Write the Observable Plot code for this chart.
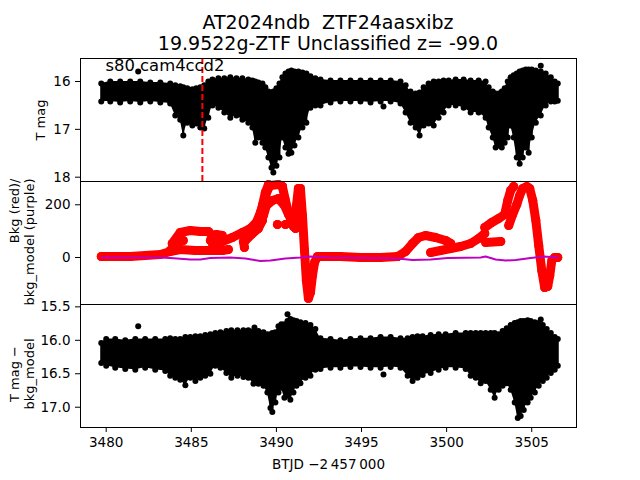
<!DOCTYPE html>
<html><head><meta charset="utf-8">
<script src="https://cdn.jsdelivr.net/npm/d3@7"></script>
<script src="https://cdn.jsdelivr.net/npm/@observablehq/plot@0.6"></script>
<style>
body{margin:0;background:#fff;font-family:"DejaVu Sans",sans-serif;}
#wrap{position:relative;width:640px;height:480px;overflow:hidden;background:#fff}
#wrap svg{position:absolute;left:0}
</style></head><body><div id="wrap"></div>
<script>
// ---------- data ----------
const titleLine1 = "AT2024ndb  ZTF24aasxibz";
const titleLine2 = "19.9522g-ZTF Unclassified z= -99.0";
const cameraLabel = "s80 cam4ccd2";
const xLabel = "BTJD \u22122\u2009457\u2009000";
const xTicks = [3480, 3485, 3490, 3495, 3500, 3505];
const p1Ticks = [16, 17, 18];
const p2Ticks = [0, 200];
const p3Ticks = [15.5, 16.0, 16.5, 17.0];
const markerTime = [3485.65];

// Panel 1: T mag envelope of point centres (bright edge / faint edge)
const p1T = [3479.71,3480.24,3480.82,3481.41,3482.00,3482.59,3483.18,3483.76,3484.06,3484.35,
3484.53,3484.76,3485.06,3485.29,3485.53,3485.76,3486.00,3486.24,3486.59,3486.94,
3487.29,3487.65,3488.00,3488.35,3488.59,3488.76,3488.94,3489.18,3489.35,3489.53,
3489.71,3489.82,3490.00,3490.18,3490.35,3490.53,3490.71,3490.88,3491.06,3491.29,
3491.53,3491.76,3492.00,3492.29,3492.59,3493.18,3493.76,3494.35,3494.94,3495.53,
3496.12,3496.71,3497.29,3497.59,3497.88,3498.18,3498.41,3498.65,3498.94,3499.24,
3499.53,3499.82,3500.12,3500.53,3501.00,3501.41,3501.88,3502.29,3502.47,3502.71,
3502.88,3503.06,3503.24,3503.41,3503.59,3503.76,3503.94,3504.12,3504.29,3504.47,
3504.65,3504.82,3505.00,3505.24,3505.53,3505.82,3506.12,3506.35,3506.53];
const p1Top = [16.04,16.00,16.00,16.00,16.00,16.02,16.02,16.04,16.08,16.10,
16.12,16.14,16.16,16.14,16.12,16.08,16.00,15.96,15.93,15.93,
15.91,15.93,15.93,15.96,15.98,16.00,16.02,16.04,16.12,16.21,
16.25,16.21,16.14,16.04,15.91,15.83,15.79,15.77,15.79,15.79,
15.81,15.83,15.89,15.93,15.96,15.98,15.98,15.98,15.98,15.98,
15.98,15.98,16.00,16.08,16.21,16.25,16.23,16.12,16.04,16.00,
16.00,15.98,15.98,15.96,15.96,15.98,15.98,16.00,16.12,16.21,
16.25,16.25,16.21,16.14,16.00,15.91,15.87,15.83,15.79,15.77,
15.75,15.75,15.75,15.77,15.79,15.83,15.91,16.00,16.04];
const p1Bot = [16.42,16.42,16.44,16.42,16.44,16.42,16.44,16.46,16.71,16.80,
17.13,16.86,16.92,16.88,16.96,16.98,16.76,16.50,16.55,16.65,
16.76,16.71,16.80,16.86,16.96,17.28,17.17,17.28,17.38,17.59,
17.80,17.90,17.76,17.59,17.17,17.38,17.51,17.49,17.34,17.17,
16.96,16.86,16.55,16.50,16.50,16.44,16.42,16.42,16.42,16.44,
16.42,16.42,16.46,16.65,16.86,16.96,17.13,16.92,16.88,16.92,
16.76,16.65,16.50,16.50,16.55,16.65,16.65,16.76,16.96,17.17,
17.38,17.34,17.38,17.28,17.17,16.92,17.17,17.59,17.72,17.59,
17.38,17.49,17.17,16.86,16.71,16.50,16.42,16.42,16.40];
const out1T = [3481.88, 3505.53, 3496.29];
const out1M = [15.79, 15.67, 16.52];

// Panel 2: background (red) as time-ordered strands, model (purple)
const bkgSeg = ["a","a","a","a","a","a","a","a","a",
"b","b","b","b","b","b",
"b2","b2","b2",
"b3","b3","b3",
"c","c","c","c","c","c","c","c","c","c","c","c",
"c2","c2","c2","c2",
"c3","c3",
"c4","c4","c4","c4","c4","c4",
"c5","c5","c5","c5",
"d","d","d","d","d",
"e1","e2",
"f","f","f","f","f","f","f","f","f","f","f","f","f","f","f","f","f",
"g","g","g","g","g","g","g","g",
"h","h","h","h","h","h","h",
"i","i",
"j","j","j","j","j","j","j",
"k","k","k","k","k","k","k","k","k","k","k","k","k","k","k","k","k"];
const bkgT = [3479.71,3481.41,3483.18,3483.76,3484.35,3485.24,3486.12,3486.82,3487.18,
3483.88,3484.35,3484.94,3485.53,3486.00,3486.29,
3483.76,3484.18,3484.53,
3486.12,3486.47,3486.82,
3486.24,3486.82,3487.41,3488.00,3488.47,3488.82,3489.06,3489.29,3489.47,3489.65,3490.12,3490.35,
3488.94,3489.18,3489.35,3489.53,
3488.06,3488.12,
3489.24,3489.41,3489.76,3490.12,3490.47,3490.71,
3488.18,3488.59,3488.94,3489.18,
3490.35,3490.53,3490.71,3490.88,3491.00,
3490.06,3490.53,
3491.12,3491.18,3491.29,3491.41,3491.53,3491.65,3491.76,3491.88,3492.00,3492.12,3492.24,3492.41,3492.88,3493.76,3494.94,3496.12,3497.12,
3497.12,3497.59,3498.00,3498.35,3498.76,3499.35,3499.94,3500.24,
3499.06,3499.65,3500.24,3500.82,3501.41,3501.88,3502.24,
3502.29,3503.18,
3502.24,3502.65,3503.06,3503.41,3503.59,3503.76,3503.94,
3503.65,3503.88,3504.12,3504.29,3504.47,3504.71,3504.88,3505.06,3505.24,3505.41,3505.59,3505.76,3505.94,3506.06,3506.18,3506.35,3506.53];
const bkgV = [3.8,3.8,11.4,22.8,30.4,26.6,26.6,26.6,30.4,
53.1,94.9,102.5,98.7,98.7,79.7,
26.6,56.9,64.5,
64.5,87.3,83.5,
53.1,60.7,75.9,94.9,110.1,132.8,170.8,216.3,254.3,273.2,277,269.4,
121.4,197.3,246.7,277,
60.7,38,
159.4,197.3,216.3,223.9,197.3,163.2,
64.5,91.1,110.1,140.4,
269.4,216.3,170.8,132.8,117.6,
125.2,125.2,
110.1,197.3,261.9,261.9,159.4,26.6,-87.3,-155.6,-132.8,-68.3,-19,3.8,3.8,3.8,0,0,3.8,
3.8,22.8,53.1,75.9,83.5,75.9,64.5,53.1,
19,26.6,34.2,41.7,53.1,72.1,91.1,
56.9,60.7,
113.9,132.8,148,163.2,216.3,254.3,269.4,
121.4,163.2,201.1,235.3,261.9,269.4,261.9,216.3,140.4,45.5,-49.3,-113.9,-110,-68.3,-11.4,0,0];
const modelT = [3479.71,3483.18,3483.76,3484.94,3485.53,3486.12,3487.29,3488.18,3489.06,3489.65,3490.53,3491.41,3492.00,3493.18,3497.12,3498.00,3499.06,3500.06,3502.00,3502.29,3502.88,3503.47,3504.06,3504.94,3505.71,3506.53];
const modelV = [0,0,-1.9,-7.6,-7.6,-1.9,0,-3.8,-13.3,-11.4,-3.8,0,3.8,0,-3.8,-9.5,-7.6,-1.9,0,3.8,-7.6,-11.4,-9.5,-1.9,3.8,0];

// Panel 3: T mag - bkg_model envelope of point centres
const p3T = [3479.71,3480.00,3480.53,3481.12,3481.71,3482.29,3482.88,3483.47,3483.76,3484.06,
3484.35,3484.65,3484.94,3485.24,3485.53,3485.82,3486.12,3486.41,3486.71,3487.06,
3487.35,3487.71,3488.06,3488.35,3488.65,3488.94,3489.24,3489.47,3489.65,3489.76,
3489.94,3490.12,3490.29,3490.47,3490.65,3490.82,3491.00,3491.18,3491.41,3491.71,
3492.00,3492.29,3492.59,3493.18,3493.76,3494.35,3494.94,3495.53,3496.12,3496.71,
3497.29,3497.71,3498.00,3498.29,3498.59,3499.06,3499.53,3499.94,3500.53,3501.12,
3501.41,3501.71,3502.00,3502.29,3502.59,3502.82,3503.06,3503.29,3503.53,3503.76,
3504.00,3504.18,3504.35,3504.53,3504.76,3504.94,3505.18,3505.41,3505.65,3505.88,
3506.12,3506.35,3506.53];
const p3Top = [16.04,15.98,15.98,16.00,15.98,15.98,15.98,15.98,15.97,15.98,
15.98,15.95,15.95,15.94,15.94,15.92,15.91,15.89,15.88,15.86,
15.85,15.85,15.85,15.85,15.86,15.86,15.88,15.91,15.91,15.89,
15.88,15.79,15.76,15.76,15.71,15.68,15.70,15.71,15.73,15.74,
15.77,15.83,15.97,15.98,16.00,15.98,15.97,15.97,15.95,15.95,
15.97,15.97,15.95,15.94,15.94,15.92,15.91,15.91,15.89,15.89,
15.89,15.89,15.89,15.89,15.89,15.89,15.91,15.86,15.82,15.77,
15.74,15.73,15.71,15.71,15.70,15.71,15.73,15.74,15.77,15.83,
15.89,15.95,15.98];
const p3Bot = [16.34,16.38,16.41,16.43,16.44,16.41,16.44,16.46,16.53,16.56,
16.59,16.67,16.56,16.61,16.56,16.53,16.50,16.38,16.41,16.49,
16.56,16.53,16.55,16.56,16.65,16.65,16.68,16.78,17.01,17.07,
16.93,16.78,16.71,16.86,16.83,16.89,16.78,16.68,16.64,16.56,
16.53,16.44,16.43,16.41,16.41,16.40,16.40,16.41,16.41,16.40,
16.41,16.53,16.61,16.56,16.52,16.49,16.44,16.41,16.41,16.43,
16.53,16.56,16.64,16.61,16.74,16.86,16.74,16.68,16.64,16.74,
16.93,17.16,17.13,17.04,16.93,16.86,16.78,16.68,16.61,16.56,
16.49,16.44,16.38];
const out3T = [3481.88, 3490.65, 3505.53, 3496.29, 3488.71];
const out3M = [15.79, 15.61, 15.69, 16.51, 15.81];

// ---------- build tables ----------
const p1 = p1T.map((t, i) => ({t, top: p1Top[i], bot: p1Bot[i]}));
const p3 = p3T.map((t, i) => ({t, top: p3Top[i], bot: p3Bot[i]}));
const o1 = out1T.map((t, i) => ({t, m: out1M[i]}));
const o3 = out3T.map((t, i) => ({t, m: out3M[i]}));
const bkg = bkgT.map((t, i) => ({t, v: bkgV[i], s: bkgSeg[i]}));
const model = modelT.map((t, i) => ({t, v: modelV[i]}));

const xDomain = [3478.49, 3507.63];
const wrap = document.getElementById("wrap");
const FONT = "DejaVu Sans";

function place(svg, top) { svg.style.top = top + "px"; wrap.append(svg); }
const baseStyle = {background: "transparent", overflow: "visible", fontFamily: FONT, fontSize: "13.5px", color: "black"};

// Title
const ns = "http://www.w3.org/2000/svg";
const tsvg = document.createElementNS(ns, "svg");
tsvg.setAttribute("width", 640); tsvg.setAttribute("height", 56);
[[titleLine1, 28.5], [titleLine2, 49.5]].forEach(([s, y]) => {
  const t = document.createElementNS(ns, "text");
  t.setAttribute("x", 328); t.setAttribute("y", y);
  t.setAttribute("text-anchor", "middle");
  t.setAttribute("font-family", FONT); t.setAttribute("font-size", "19px");
  t.setAttribute("style", "white-space:pre");
  t.textContent = s; tsvg.append(t);
});
place(tsvg, 0);

function envelopeMarks(data, outs) {
  return [
    Plot.areaY(data, {x: "t", y1: "top", y2: "bot", fill: "black", curve: "linear"}),
    Plot.ruleX(data, {x: "t", y1: "top", y2: "bot", stroke: "black", strokeWidth: 2}),
    Plot.dot(data, {x: "t", y: "top", r: 3, fill: "black"}),
    Plot.dot(data, {x: "t", y: "bot", r: 3, fill: "black"}),
    Plot.dot(outs, {x: "t", y: "m", r: 3, fill: "black"})
  ];
}

// Panel 1
place(Plot.plot({
  width: 640, height: 127, marginLeft: 80, marginRight: 64, marginTop: 2, marginBottom: 2,
  x: {domain: xDomain, axis: null},
  y: {domain: [15.519, 18.09], reverse: true},
  style: baseStyle,
  marks: [
    ...envelopeMarks(p1, o1),
    Plot.ruleX(markerTime, {x: d => d, stroke: "red", strokeWidth: 2, strokeDasharray: "6,3"}),
    Plot.text([cameraLabel], {frameAnchor: "top-left", dx: 25, dy: 12.3, lineAnchor: "bottom", textAnchor: "start", fontSize: 16.4, fill: "black"}),
    Plot.axisY({ticks: p1Ticks, tickSize: 5, tickPadding: 5, tickFormat: d3.format("d"), label: null}),
    Plot.text(["T mag"], {frameAnchor: "left", dx: -40, rotate: -90, textAnchor: "middle", lineAnchor: "middle", fontSize: 13}),
    Plot.frame({stroke: "black"})
  ]
}), 56);

// Panel 2
place(Plot.plot({
  width: 640, height: 127, marginLeft: 80, marginRight: 64, marginTop: 2, marginBottom: 2,
  x: {domain: xDomain, axis: null},
  y: {domain: [-178.4, 288.4]},
  style: baseStyle,
  marks: [
    Plot.line(bkg, {x: "t", y: "v", z: "s", stroke: "red", strokeWidth: 9, strokeLinecap: "round", strokeLinejoin: "round"}),
    Plot.dot(bkg, {x: "t", y: "v", r: 4.5, fill: "red"}),
    Plot.line(model, {x: "t", y: "v", stroke: "#bf00bf", strokeWidth: 2}),
    Plot.axisY({ticks: p2Ticks, tickSize: 5, tickPadding: 5, tickFormat: d3.format("d"), label: null}),
    Plot.text(["Bkg (red)/"], {frameAnchor: "top-left", dx: -65.5, dy: -3, rotate: -90, textAnchor: "end", lineAnchor: "middle", fontSize: 13}),
    Plot.text(["bkg_model (purple)"], {frameAnchor: "top-left", dx: -50.5, dy: -3, rotate: -90, textAnchor: "end", lineAnchor: "middle", fontSize: 13}),
    Plot.frame({stroke: "black"})
  ]
}), 179);

// Panel 3
place(Plot.plot({
  width: 640, height: 178, marginLeft: 80, marginRight: 64, marginTop: 2, marginBottom: 53,
  x: {domain: xDomain},
  y: {domain: [15.465, 17.303], reverse: true},
  style: baseStyle,
  marks: [
    ...envelopeMarks(p3, o3),
    Plot.axisY({ticks: p3Ticks, tickSize: 5, tickPadding: 5, tickFormat: d3.format(".1f"), label: null}),
    Plot.axisX({ticks: xTicks, tickSize: 5, tickPadding: 5, tickFormat: d => String(d), label: null}),
    Plot.text(["T mag \u2212"], {frameAnchor: "left", dx: -65.5, dy: 8, rotate: -90, textAnchor: "middle", lineAnchor: "middle", fontSize: 13}),
    Plot.text(["bkg_model"], {frameAnchor: "left", dx: -50.5, dy: 8, rotate: -90, textAnchor: "middle", lineAnchor: "middle", fontSize: 13}),
    Plot.text([xLabel], {frameAnchor: "bottom", dy: 41, lineAnchor: "bottom", textAnchor: "middle", fontSize: 13.5}),
    Plot.frame({stroke: "black"})
  ]
}), 302);
</script>
</body></html>
